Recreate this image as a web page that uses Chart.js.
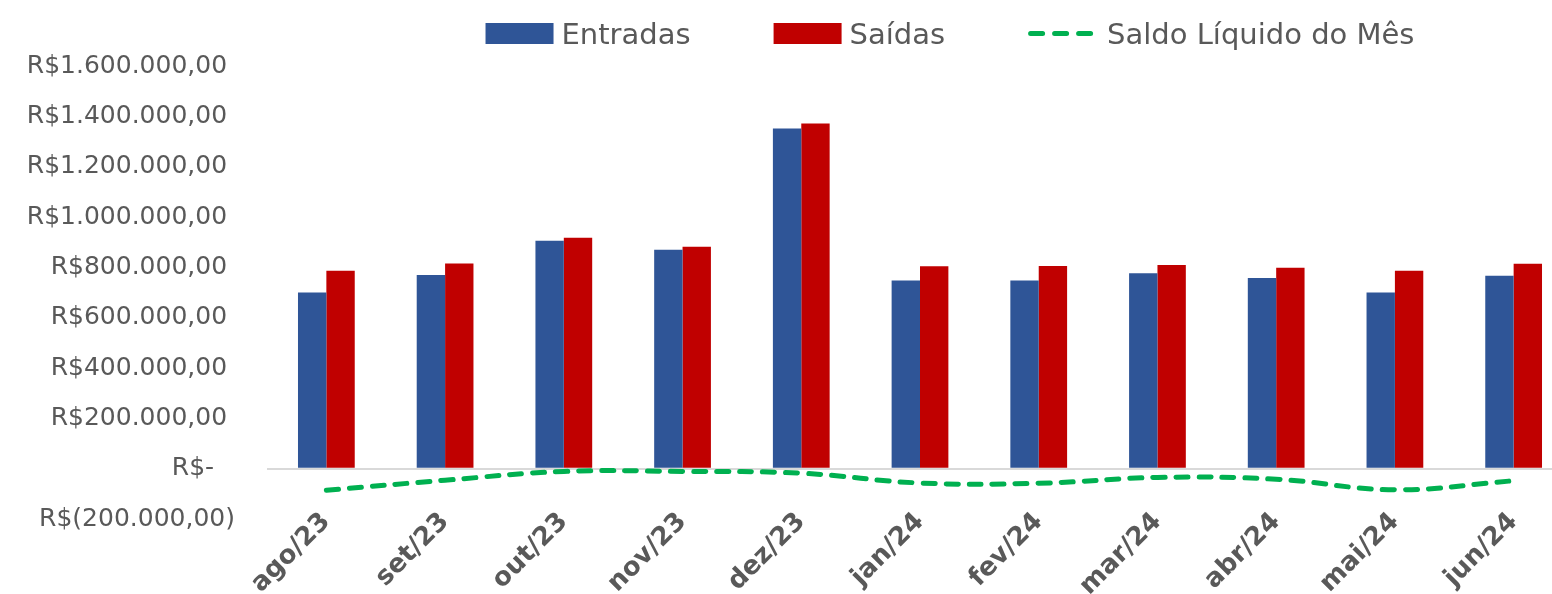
<!DOCTYPE html>
<html lang="pt-BR">
<head>
<meta charset="utf-8">
<title>Entradas, Saídas e Saldo Líquido do Mês</title>
<script src="https://cdn.jsdelivr.net/npm/chart.js@4.4.1/dist/chart.umd.min.js"></script>
<style>
  html, body { margin: 0; padding: 0; background: #ffffff; overflow: hidden; }
  #wrap { width: 1552px; height: 594px; overflow: hidden; position: relative; }
  canvas { display: block; }
</style>
</head>
<body>
<div id="wrap"><canvas id="fluxo" width="1573" height="594"></canvas></div>
<script>
// Meses do período
const months = ['ago/23', 'set/23', 'out/23', 'nov/23', 'dez/23', 'jan/24',
                'fev/24', 'mar/24', 'abr/24', 'mai/24', 'jun/24'];

// Valores mensais (R$)
const entradas = [700000, 770000, 906000, 870000, 1352000, 748000, 748000, 776000, 758000, 700000, 767000];
const saidas   = [786000, 815000, 918000, 882000, 1372000, 804000, 805000, 809000, 798000, 786000, 814000];
const saldo    = [-86000, -46000, -11000, -11000, -18000, -57000, -58000, -35000, -42000, -84000, -48000];

// Rótulos do eixo de valores (formato contábil)
const yTickValues = [-200000, 0, 200000, 400000, 600000, 800000, 1000000, 1200000, 1400000, 1600000];
const yTickLabels = ['R$(200.000,00)', 'R$-  \u2009', 'R$200.000,00 ', 'R$400.000,00 ', 'R$600.000,00 ',
                     'R$800.000,00 ', 'R$1.000.000,00 ', 'R$1.200.000,00 ', 'R$1.400.000,00 ', 'R$1.600.000,00 '];

const FONT = '"DejaVu Sans", Lato, sans-serif';
const TEXT_GRAY = '#595959';
const BLUE = '#2F5597';
const RED = '#C00000';
const GREEN = '#00B050';

// Legenda desenhada no topo do canvas, em linha, a partir dos datasets
const seriesKey = {
  id: 'seriesKey',
  afterDraw(chart, args, opts) {
    const ctx = chart.ctx;
    ctx.save();
    ctx.font = opts.fontSize + 'px ' + FONT;
    const items = chart.data.datasets.map(ds => {
      const isLine = ds.type === 'line';
      return {
        ds, isLine,
        markW: isLine ? opts.lineKeyWidth : opts.boxWidth,
        gap: isLine ? opts.lineTextGap : opts.textGap,
        textW: ctx.measureText(ds.label).width
      };
    });
    const total = items.reduce((s, it) => s + it.markW + it.gap + it.textW, 0) + opts.itemGap * (items.length - 1);
    let x = opts.centerX - total / 2;
    items.forEach(it => {
      if (it.isLine) {
        const w = it.ds.borderWidth;
        ctx.strokeStyle = it.ds.borderColor;
        ctx.lineWidth = w;
        ctx.lineCap = 'round';
        ctx.setLineDash(opts.keyDash);
        ctx.beginPath();
        ctx.moveTo(x + w / 2, opts.boxTop + opts.boxHeight / 2);
        ctx.lineTo(x + it.markW - w / 2, opts.boxTop + opts.boxHeight / 2);
        ctx.stroke();
        ctx.setLineDash([]);
      } else {
        ctx.fillStyle = it.ds.backgroundColor;
        ctx.fillRect(x, opts.boxTop, it.markW, opts.boxHeight);
      }
      x += it.markW + it.gap;
      ctx.fillStyle = TEXT_GRAY;
      ctx.textAlign = 'left';
      ctx.textBaseline = 'alphabetic';
      ctx.fillText(it.ds.label, x, opts.baseline);
      x += it.textW + opts.itemGap;
    });
    ctx.restore();
  }
};

new Chart(document.getElementById('fluxo'), {
  type: 'bar',
  data: {
    labels: months,
    datasets: [
      {
        label: 'Entradas',
        data: entradas,
        backgroundColor: BLUE,
        categoryPercentage: 0.478,
        barPercentage: 1,
        order: 2
      },
      {
        label: 'Saídas',
        data: saidas,
        backgroundColor: RED,
        categoryPercentage: 0.478,
        barPercentage: 1,
        order: 2
      },
      {
        type: 'line',
        label: 'Saldo Líquido do Mês',
        data: saldo,
        borderColor: GREEN,
        backgroundColor: GREEN,
        borderWidth: 5,
        borderDash: [12, 11],
        borderCapStyle: 'round',
        pointRadius: 0,
        tension: 0.4,
        fill: false,
        order: 1
      }
    ]
  },
  options: {
    responsive: false,
    animation: false,
    devicePixelRatio: 1,
    layout: { padding: { top: 66, bottom: 75, left: 0, right: 0 } },
    plugins: {
      legend: { display: false },
      tooltip: { enabled: false },
      seriesKey: {
        fontSize: 29,
        boxWidth: 68,
        boxHeight: 21,
        boxTop: 23,
        lineKeyWidth: 66,
        keyDash: [12, 12],
        textGap: 8,
        lineTextGap: 13,
        itemGap: 83,
        centerX: 950,
        baseline: 44
      }
    },
    scales: {
      x: {
        position: { y: 0 },
        grid: { display: false },
        border: { display: false },
        ticks: {
          autoSkip: false,
          minRotation: 45,
          maxRotation: 45,
          padding: 30,
          color: TEXT_GRAY,
          font: { family: FONT, size: 26, weight: 'bold' }
        }
      },
      y: {
        min: -200000,
        max: 1600000,
        border: { display: false },
        grid: {
          drawTicks: false,
          lineWidth: 2,
          color: c => (c.tick && c.tick.value === 0 ? '#D9D9D9' : 'rgba(0,0,0,0)')
        },
        ticks: {
          stepSize: 200000,
          padding: 32,
          color: TEXT_GRAY,
          font: { family: FONT, size: 25 },
          callback: value => {
            const i = yTickValues.indexOf(value);
            return i >= 0 ? yTickLabels[i] : '';
          }
        },
        afterFit(scale) { scale.width = 267; }
      }
    }
  },
  plugins: [seriesKey]
});
</script>
</body>
</html>
